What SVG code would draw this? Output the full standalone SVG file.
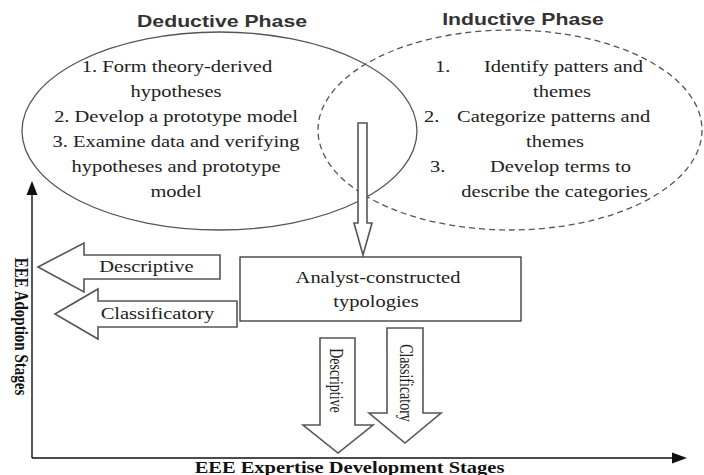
<svg xmlns="http://www.w3.org/2000/svg" width="704" height="475" viewBox="0 0 704 475">
<style>
.t{font-size:16px;fill:#222}
.tv{font-size:14px;fill:#222}
.ttl{font-size:17px;font-weight:bold;fill:#333}
.ax{font-weight:bold;fill:#111}
.m{text-anchor:middle}
.ell{fill:none;stroke:#555;stroke-width:1.3}
.blk{fill:#fff;stroke:#555;stroke-width:1.6}
.axis{stroke:#111;stroke-width:1.4;fill:none}
</style>
<rect width="704" height="475" fill="#fff"/>

<g id="deductive" font-family="'Liberation Serif', 'Times New Roman', serif">
<ellipse class="ell" cx="219.5" cy="131" rx="197.5" ry="99"/>
<text class="ttl m" font-family="'Liberation Sans', Arial, sans-serif" transform="translate(222 27) scale(1.25 1)">Deductive Phase</text>
<text class="t m" transform="translate(177 72) scale(1.28 1)">1. Form theory-derived</text>
<text class="t m" transform="translate(176 97) scale(1.28 1)">hypotheses</text>
<text class="t m" transform="translate(176 122) scale(1.28 1)">2. Develop a prototype model</text>
<text class="t m" transform="translate(176 147) scale(1.28 1)">3. Examine data and verifying</text>
<text class="t m" transform="translate(176 172) scale(1.28 1)">hypotheses and prototype</text>
<text class="t m" transform="translate(176 197) scale(1.28 1)">model</text>
</g>

<g id="inductive" font-family="'Liberation Serif', 'Times New Roman', serif">
<ellipse class="ell" cx="510" cy="130" rx="192" ry="100" stroke-dasharray="6 4"/>
<text class="ttl m" font-family="'Liberation Sans', Arial, sans-serif" transform="translate(523 25) scale(1.25 1)">Inductive Phase</text>
<text class="t" transform="translate(435 72) scale(1.28 1)">1.</text>
<text class="t" transform="translate(484 72) scale(1.28 1)">Identify patters and</text>
<text class="t m" transform="translate(562 97) scale(1.28 1)">themes</text>
<text class="t" transform="translate(424 122) scale(1.28 1)">2.</text>
<text class="t" transform="translate(457 122) scale(1.28 1)">Categorize patterns and</text>
<text class="t m" transform="translate(555 147) scale(1.28 1)">themes</text>
<text class="t" transform="translate(430 172) scale(1.28 1)">3.</text>
<text class="t" transform="translate(490 172) scale(1.28 1)">Develop terms to</text>
<text class="t m" transform="translate(554.5 197) scale(1.28 1)">describe the categories</text>
</g>

<g id="connectors">
<polygon class="blk" points="358,123 367,123 367,223 372,223 363,255 354,223 358,223"/>
<line class="axis" x1="32" y1="458" x2="32" y2="193"/>
<polygon points="32,181 26.5,195 37.5,195" fill="#111"/>
<line class="axis" x1="32" y1="458" x2="674" y2="458"/>
<polygon points="687,458 672,452.5 672,463.5" fill="#111"/>
</g>

<g id="typologies" font-family="'Liberation Serif', 'Times New Roman', serif">
<rect x="240" y="257" width="281" height="64" fill="#fff" stroke="#333" stroke-width="1.3"/>
<text class="t m" transform="translate(378 283) scale(1.28 1)">Analyst-constructed</text>
<text class="t m" transform="translate(376 307) scale(1.28 1)">typologies</text>
</g>

<g id="descriptive-left" font-family="'Liberation Serif', 'Times New Roman', serif">
<polygon class="blk" points="38,267 84,243 84,255 220,255 220,279 84,279 84,292"/>
<text class="t m" transform="translate(146.5 272) scale(1.28 1)">Descriptive</text>
</g>

<g id="classificatory-left" font-family="'Liberation Serif', 'Times New Roman', serif">
<polygon class="blk" points="55,314 98,289 98,301 237,301 237,327 98,327 98,339"/>
<text class="t m" transform="translate(157.5 319) scale(1.28 1)">Classificatory</text>
</g>

<g id="descriptive-down" font-family="'Liberation Serif', 'Times New Roman', serif">
<polygon class="blk" points="320,338 355,338 355,425 373,425 338,453 303,425 320,425"/>
<text class="tv m" transform="translate(329.5 380.5) scale(1.28 1) rotate(90)">Descriptive</text>
</g>

<g id="classificatory-down" font-family="'Liberation Serif', 'Times New Roman', serif">
<polygon class="blk" points="387,328 423,328 423,413 441,413 405,443 369,413 387,413"/>
<text class="tv m" transform="translate(399.5 383) scale(1.28 1) rotate(90)">Classificatory</text>
</g>

<g id="axis-labels" font-family="'Liberation Serif', 'Times New Roman', serif">
<text class="ax m" font-size="15" transform="translate(15 326.5) scale(1.28 1) rotate(90)">EEE Adoption Stages</text>
<text class="ax m" font-size="16" transform="translate(349.5 473) scale(1.28 1)">EEE Expertise Development Stages</text>
</g>
</svg>
